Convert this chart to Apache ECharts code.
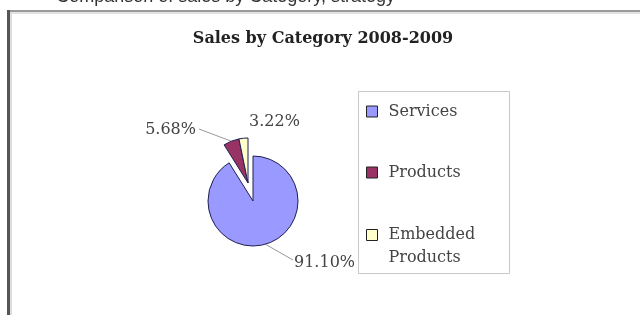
<!DOCTYPE html>
<html>
<head>
<meta charset="utf-8">
<script src="https://cdn.jsdelivr.net/npm/echarts@6/dist/echarts.min.js"></script>
<style>
  html, body { margin: 0; padding: 0; background: #fff; }
  #main { width: 640px; height: 315px; }
</style>
</head>
<body>
<div id="main"></div>
<script>
// 数据
var categories = ['Services', 'Products', 'Embedded Products'];
var shares = [91.10, 5.68, 3.22];
var colors = ['#9999ff', '#993366', '#ffffcc'];
var exploded = [false, true, true];

var chart = echarts.init(document.getElementById('main'));

// label positions (like the excel picture)
var labelPos = [
  { x: 294, y: 263, align: 'left' },
  { x: 196, y: 130, align: 'right' },
  { x: 249, y: 122, align: 'left' }
];
var lineEnd = [[293, 260], [199, 129], null];

// 两个饼：一个画主体，一个画分离出来的小块
function buildData(explodedPart) {
  var arr = [];
  for (var i = 0; i < categories.length; i++) {
    var show = exploded[i] == explodedPart;
    arr.push({
      name: categories[i],
      value: shares[i],
      itemStyle: show ? { color: colors[i] } : { color: 'transparent', borderWidth: 0 },
      label: { show: show },
      labelLine: { show: show && lineEnd[i] != null }
    });
  }
  return arr;
}

function layoutLabel(params) {
  var k = params.dataIndex;
  var p = labelPos[k];
  var res = { x: p.x, y: p.y, align: p.align, verticalAlign: 'middle' };
  if (params.labelLinePoints && lineEnd[k]) {
    var s = params.labelLinePoints[0];
    var e = lineEnd[k];
    res.labelLinePoints = [s, [(s[0] + e[0]) / 2, (s[1] + e[1]) / 2], e];
  }
  return res;
}

var pieBase = {
  type: 'pie',
  radius: 45,
  startAngle: 90,
  clockwise: true,
  avoidLabelOverlap: false,
  itemStyle: { borderColor: '#1f1f4f', borderWidth: 1 },
  emphasis: { disabled: true },
  label: {
    formatter: function (p) { return p.value.toFixed(2) + '%'; },
    fontFamily: 'DejaVu Serif',
    fontSize: 16,
    color: '#444'
  },
  labelLine: {
    length: 10,
    length2: 10,
    lineStyle: { color: '#999', width: 1 }
  },
  labelLayout: layoutLabel
};

var legendData = [];
for (var j = 0; j < categories.length; j++) {
  legendData.push({ name: categories[j], itemStyle: { color: colors[j], borderColor: '#222', borderWidth: 1 } });
}

var legendText = {
  fontFamily: 'DejaVu Serif',
  fontSize: 16,
  lineHeight: 23,
  color: '#444',
  padding: [0, 0, 0, 6]
};
var legendBase = {
  orient: 'vertical',
  left: 366,
  padding: 0,
  itemGap: 38,
  itemWidth: 11,
  itemHeight: 11,
  selectedMode: false,
  icon: 'rect'
};

var option = {
  backgroundColor: '#fff',
  animation: false,
  title: {
    text: 'Sales by Category 2008-2009',
    left: 318,
    top: 26,
    textAlign: 'center',
    textStyle: {
      fontFamily: 'DejaVu Serif',
      fontWeight: 'bold',
      fontSize: 16,
      color: '#222'
    }
  },
  legend: [
    echarts.util.merge({
      top: 100,
      data: legendData.slice(0, 2),
      textStyle: legendText
    }, legendBase, true),
    // 两行的图例：图标对齐第一行
    echarts.util.merge({
      top: 212,
      data: legendData.slice(2),
      formatter: '{a|Embedded}\n{b|Products}',
      textStyle: echarts.util.merge({
        rich: {
          a: { fontFamily: 'DejaVu Serif', fontSize: 16, color: '#444', lineHeight: 45 },
          b: { fontFamily: 'DejaVu Serif', fontSize: 16, color: '#444', lineHeight: 1 }
        }
      }, legendText, true)
    }, legendBase, true)
  ],
  graphic: [
    // frame of the screenshot
    { type: 'rect', shape: { x: 8, y: 10, width: 632, height: 2 }, style: { fill: '#9a9a9a' } },
    { type: 'rect', shape: { x: 8, y: 12, width: 632, height: 2 }, style: { fill: '#e2e2e2' } },
    { type: 'rect', shape: { x: 7, y: 10, width: 3, height: 305 }, style: { fill: '#555' } },
    { type: 'rect', shape: { x: 10, y: 12, width: 2, height: 303 }, style: { fill: '#ddd' } },
    // legend box
    {
      type: 'rect', shape: { x: 358.5, y: 91.5, width: 151, height: 182 },
      style: { fill: 'none', stroke: '#c8c8c8', lineWidth: 1 }
    },
    {
      type: 'text', x: 395, y: 6,
      style: {
        text: 'Comparison of sales by Category, strategy',
        align: 'right',
        verticalAlign: 'bottom',
        font: '18px Liberation Sans',
        fill: '#333'
      }
    }
  ],
  series: [
    echarts.util.merge({ name: 'Sales', center: [253, 201], data: buildData(false) }, pieBase, true),
    echarts.util.merge({ name: 'Sales exploded', center: [248, 183], data: buildData(true) }, pieBase, true)
  ]
};

chart.setOption(option);
</script>
</body>
</html>
